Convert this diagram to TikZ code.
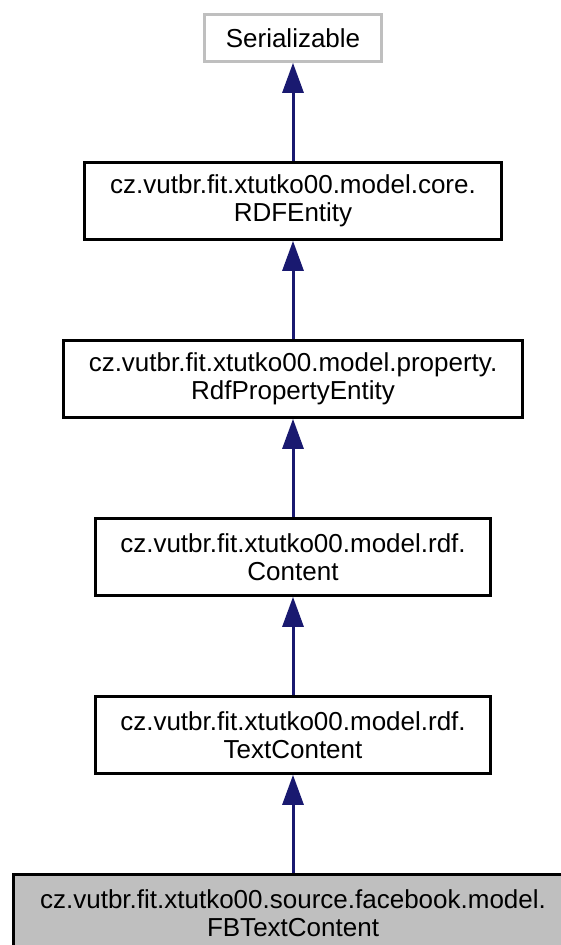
\documentclass[tikz,border=0pt]{standalone}
\usepackage{fontspec}
\setmainfont{Liberation Sans}
\usetikzlibrary{arrows.meta}
\definecolor{edgeblue}{HTML}{191970}
\definecolor{fillgray}{HTML}{BFBFBF}
\begin{document}
\begin{tikzpicture}[x=1pt,y=-1pt,
  cls/.style={draw=black, line width=2.7pt, fill=white, inner sep=0pt, align=center,
    font=\fontsize{26pt}{28pt}\selectfont},
  ext/.style={cls, draw=fillgray},
  cur/.style={cls, fill=fillgray},
  inh/.style={draw=edgeblue, line width=3pt, -{Triangle[length=30pt,width=21pt]}}]
\useasboundingbox (0,0) rectangle (561,945);
\clip (0,0) rectangle (561,945);
\fill[white] (0,0) rectangle (561,945);
\node[ext, minimum width=177pt, minimum height=47pt] (ser) at (293,38) {Serializable};
\node[cls, minimum width=417pt, minimum height=77pt] (rdf) at (293,201)
  {cz.vutbr.fit.xtutko00.model.core.\\RDFEntity};
\node[cls, minimum width=459pt, minimum height=77pt] (prop) at (293,379)
  {cz.vutbr.fit.xtutko00.model.property.\\RdfPropertyEntity};
\node[cls, minimum width=395pt, minimum height=77pt] (cont) at (293,557)
  {cz.vutbr.fit.xtutko00.model.rdf.\\Content};
\node[cls, minimum width=395pt, minimum height=77pt] (text) at (293,735)
  {cz.vutbr.fit.xtutko00.model.rdf.\\TextContent};
\node[cur, minimum width=559pt, minimum height=77pt] (fb) at (293,913)
  {cz.vutbr.fit.xtutko00.source.facebook.model.\\FBTextContent};
\draw[inh] (rdf.north) -- (ser.south);
\draw[inh] (prop.north) -- (rdf.south);
\draw[inh] (cont.north) -- (prop.south);
\draw[inh] (text.north) -- (cont.south);
\draw[inh] (fb.north) -- (text.south);
\end{tikzpicture}
\end{document}
